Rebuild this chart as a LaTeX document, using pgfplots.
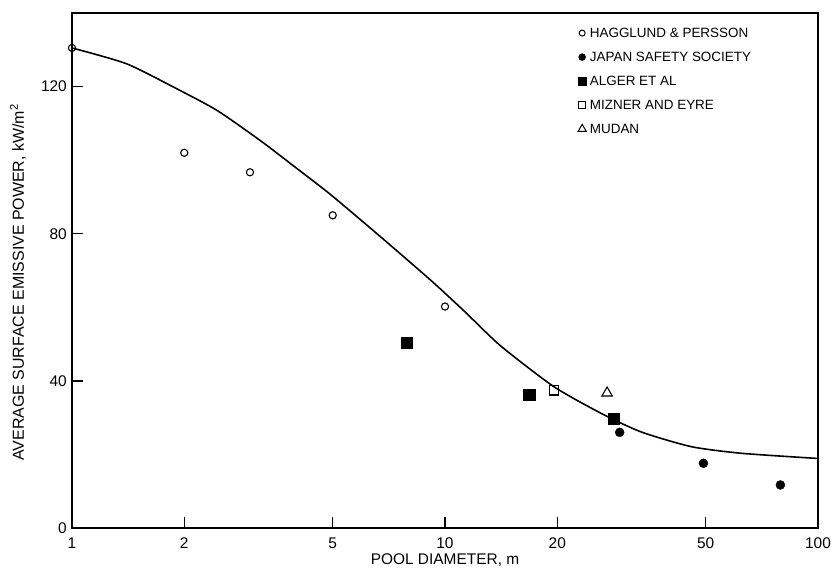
\documentclass[border=0pt]{standalone}
\usepackage{fontspec}
\setmainfont{Liberation Sans}
\usepackage{pgfplots}
\pgfplotsset{compat=1.18}
\begin{document}
\begin{tikzpicture}
\begin{axis}[
  scale only axis,
  width=746bp, height=515bp,
  xmode=log, xmin=1, xmax=100, ymin=0, ymax=140,
  xtick={1,2,5,10,20,50,100},
  xticklabels={1,2,5,10,20,50,100},
  ytick={0,40,80,120},
  yticklabels={0,40,80,120},
  xminorticks=false, yminorticks=false,
  xtick align=inside, ytick align=inside,
  xtick pos=lower, ytick pos=left,
  major tick length=11bp,
  xtick style={line width=1.3pt, black},
  ytick style={line width=1.3pt, black},
  axis line style={line width=1.3pt},
  clip=false,
  /pgf/number format/assume math mode=true,
  tick label style={font=\fontsize{15.5}{17}\selectfont},
  xticklabel style={anchor=center, yshift=-15bp},
  yticklabel style={anchor=east, inner sep=0pt, xshift=-5bp},
  every axis x label/.style={at={(rel axis cs:0.5,0)}, anchor=center, yshift=-32bp, font=\fontsize{15.5}{17}\selectfont},
  every axis y label/.style={at={(rel axis cs:0,0.477)}, rotate=90, anchor=center, yshift=54bp, font=\fontsize{16}{18}\selectfont},
  xlabel={POOL DIAMETER, m},
  ylabel={AVERAGE SURFACE EMISSIVE POWER, kW/m\textsuperscript{2}},
  legend style={draw=none, fill=none, at={(0.678,0.973)}, anchor=north west,
    font=\fontsize{13.5}{15}\selectfont, row sep=12bp, inner sep=0pt,
    nodes={inner sep=0pt, text height=10bp, text depth=2bp},
    /tikz/every odd column/.append style={column sep=3.5bp}},
  legend cell align=left,
]
\pgfplotsinvokeforeach{2,5,10,20,50}{
  \draw[line width=1.3pt] (axis cs:#1,0) -- ([yshift=11bp]axis cs:#1,0);
}
\pgfplotsinvokeforeach{40,80,120}{
  \draw[line width=1.3pt] (axis cs:1,#1) -- ([xshift=11bp]axis cs:1,#1);
}
\addplot[line width=1.6pt, smooth, tension=0.4, forget plot] coordinates {
(1,130.5) (1.40,126.2) (1.91,119.4) (2.45,113.5) (3.20,105.3) (3.93,98.4)
(4.94,90.6) (6.73,79.1) (9.17,67.3) (11.25,59.0) (14.1,49.5) (19.6,38.4)
(26.3,31.1) (33.6,26.1) (45.8,22.1) (62.5,20.3) (100,18.9)};
\addplot[only marks, mark=o, mark size=3.6bp, line width=1.1pt, black, forget plot] coordinates {
(1,130.5) (2,102) (3,96.7) (5,85) (10,60.2)};
\addplot[only marks, mark=*, mark size=4.5bp, black, forget plot] coordinates {
(29.4,26) (49.3,17.6) (79.3,11.7)};
\addplot[only marks, mark=square*, mark size=5.8bp, black, forget plot] coordinates {
(7.9,50.4) (16.8,36.2) (28.3,29.7)};
\addplot[only marks, mark=square, mark size=4.9bp, line width=1.1pt, black, mark options={fill=white}, forget plot] coordinates {
(19.6,37.5)};
\addplot[only marks, mark=triangle, mark size=6bp, line width=1.1pt, black, forget plot] coordinates {
(27.2,36.7)};
\addlegendimage{only marks, mark=o, mark size=3bp, line width=1pt, black}
\addlegendentry{HAGGLUND \& PERSSON}
\addlegendimage{only marks, mark=*, mark size=3.5bp, black}
\addlegendentry{JAPAN SAFETY SOCIETY}
\addlegendimage{only marks, mark=square*, mark size=4.2bp, black}
\addlegendentry{ALGER ET AL}
\addlegendimage{only marks, mark=square, mark size=3.8bp, line width=1pt, black}
\addlegendentry{MIZNER AND EYRE}
\addlegendimage{only marks, mark=triangle, mark size=4.8bp, line width=1pt, black}
\addlegendentry{MUDAN}
\end{axis}
\path ([xshift=-72bp,yshift=-45bp]current axis.south west) rectangle ([xshift=17bp,yshift=13bp]current axis.north east);
\end{tikzpicture}
\end{document}
